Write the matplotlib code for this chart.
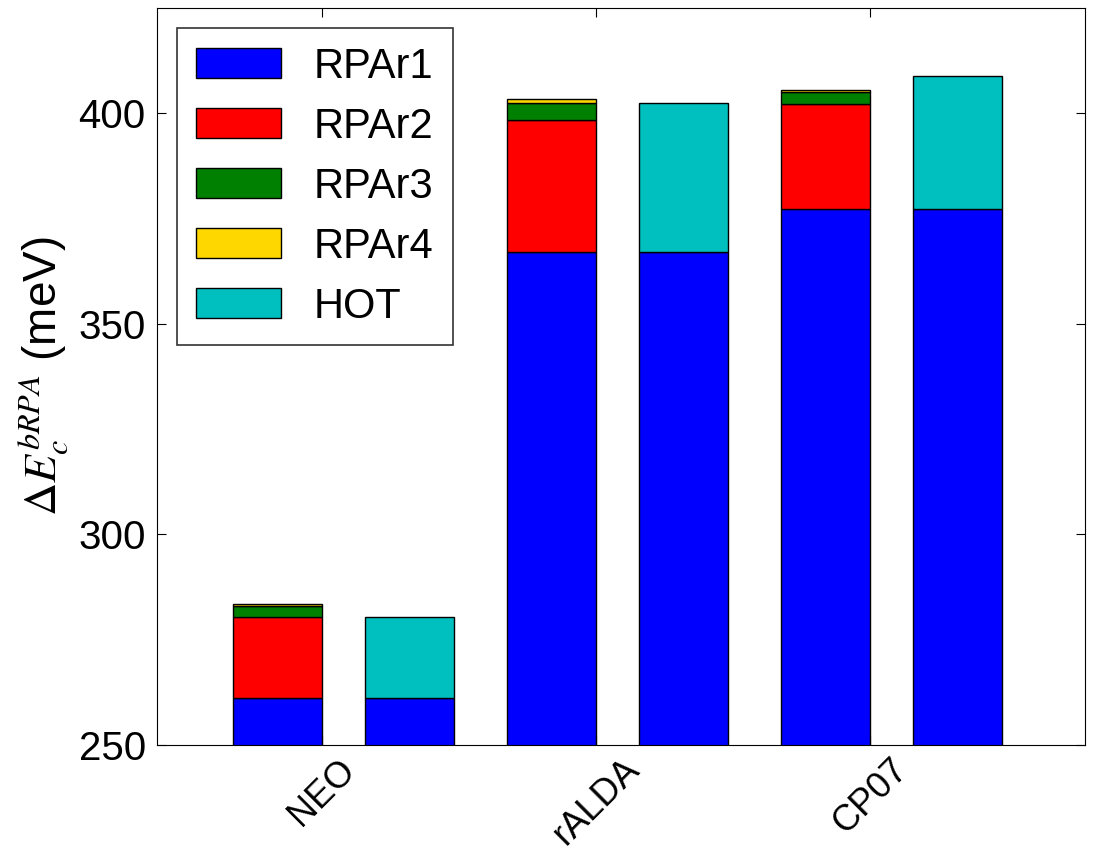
import numpy as np
import matplotlib
matplotlib.use("Agg")
import matplotlib.pyplot as plt

plt.rcParams['font.family'] = ['Liberation Sans', 'DejaVu Sans']
plt.rcParams['mathtext.fontset'] = 'stix'

functionals = ["NEO", "rALDA", "CP07"]

# contributions per order (meV)
rpar1 = [261.2, 367.0, 377.3]
rpar2 = [19.3, 31.5, 24.9]
rpar3 = [2.5, 4.0, 2.8]
rpar4 = [0.5, 0.8, 0.5]
hot   = [19.3, 35.5, 31.5]

colors = ['#0000ff', '#ff0000', '#008000', '#ffd700', '#00bfbf']

width = 0.325
gap = 0.482
ind = np.arange(len(functionals))

fig = plt.figure(figsize=(10.96, 8.51), dpi=100)
ax = fig.add_axes([0.1432, 0.1246, 0.8468, 0.866])

bottom = np.zeros(len(functionals))
for vals, col, lab in zip([rpar1, rpar2, rpar3, rpar4],
                          colors[:4],
                          ["RPAr1", "RPAr2", "RPAr3", "RPAr4"]):
    ax.bar(ind, vals, width, bottom=bottom, align='edge',
           color=col, edgecolor='black', linewidth=1, label=lab)
    bottom = bottom + np.array(vals)

ax.bar(ind + gap, rpar1, width, align='edge',
       color=colors[0], edgecolor='black', linewidth=1)
ax.bar(ind + gap, hot, width, bottom=rpar1, align='edge',
       color=colors[4], edgecolor='black', linewidth=1, label="HOT")

ax.set_ylim(250, 425)
ax.set_xlim(-0.277, 3.109)
ax.set_yticks([250, 300, 350, 400])
ax.set_xticks(ind + width)
ax.set_xticklabels(functionals, rotation=45, ha='center')
ax.tick_params(direction='in', length=6.5, top=True, right=True)
ax.tick_params(axis='y', labelsize=29, pad=8)
ax.tick_params(axis='x', labelsize=26, pad=5)

ax.set_ylabel(r"$\Delta E_c^{bRPA}$ (meV)", fontsize=33, labelpad=5)

leg = ax.legend(loc='upper left', fontsize=30, fancybox=False,
                edgecolor='black', handlelength=2.04, handleheight=0.74,
                borderpad=0.45, labelspacing=0.48, handletextpad=0.8,
                borderaxespad=0.48)
leg.get_frame().set_linewidth(1.2)

fig.savefig("out.png", dpi=100)
